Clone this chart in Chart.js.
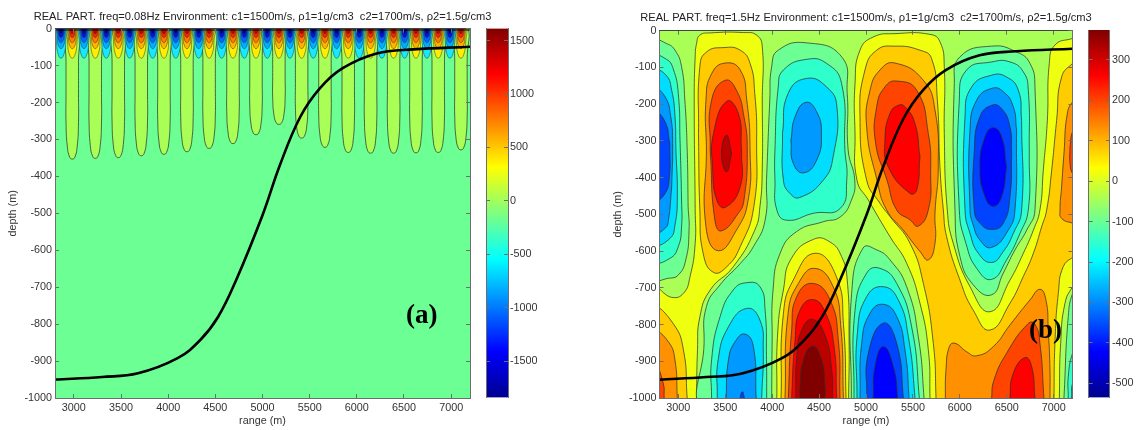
<!DOCTYPE html>
<html>
<head>
<meta charset="utf-8">
<title>Real part, two frequencies</title>
<script src="https://cdn.jsdelivr.net/npm/chart.js@4"></script>
<style>
  html, body { margin: 0; padding: 0; background: #fff; overflow: hidden; }
  body { width: 1141px; height: 430px; position: relative; }
  .box { position: absolute; top: 0; height: 430px; filter: blur(0.35px); }
  .tag { position: absolute; font: bold 27px "Liberation Serif", serif; color: #000; line-height: 30px; filter: blur(0.35px); }
</style>
</head>
<body>
<div class="box" style="left:0;width:525px"><canvas id="panelA"></canvas></div>
<div class="box" style="left:610px;width:512px"><canvas id="panelB"></canvas></div>
<div class="box" style="left:480px;width:80px"><canvas id="barA"></canvas></div>
<div class="box" style="left:1083px;width:58px"><canvas id="barB"></canvas></div>
<div class="tag" style="left:406px;top:299px">(a)</div>
<div class="tag" style="left:1029px;top:314px">(b)</div>
<script>
// axes
const rangeTicks = [3000, 3500, 4000, 4500, 5000, 5500, 6000, 6500, 7000];
const depthTicks = [0, -100, -200, -300, -400, -500, -600, -700, -800, -900, -1000];
const barTicksA = [1500, 1000, 500, 0, -500, -1000, -1500];
const barTicksB = [300, 200, 100, 0, -100, -200, -300, -400, -500];
const barRangeA = [-1842, 1614];
const barRangeB = [-535, 374];
const titleA = 'REAL PART. freq=0.08Hz Environment: c1=1500m/s, \u03c11=1g/cm3  c2=1700m/s, \u03c12=1.5g/cm3';
const titleB = 'REAL PART. freq=1.5Hz Environment: c1=1500m/s, \u03c11=1g/cm3  c2=1700m/s, \u03c12=1.5g/cm3';

// interface curve (same in both panels)
const curveRange = [2800, 3300, 3680, 4100, 4340, 4530, 4720, 5000, 5185, 5400, 5610, 5850, 6210, 6600, 7200];
const curveDepth = [-950, -943, -933, -892, -843, -780, -681, -505, -369, -239, -161, -107, -67, -56, -49];

// panel (a): lobes along the surface
const redLobes = [2983, 3227, 3471, 3715, 3955, 4199, 4434, 4687, 4931, 5174, 5415, 5662, 5909, 6146, 6390, 6627, 6863, 7104];
const blueLobes = [2864, 3107, 3344, 3592, 3836, 4080, 4323, 4567, 4807, 5050, 5291, 5538, 5786, 6026, 6266, 6507, 6743, 6987];
const fingerDepths = [353, 351, 349, 344, 340, 333, 324, 311, 287, 259, 296, 321, 335, 337, 337, 336, 335, 328];
const lobeDepths = [80, 54, 38, 24, 13];
const lobeHalfWidths = [50, 42, 34, 26, 18];
const redLobeColors = ['#FFEE00', '#FFB400', '#FF7800', '#FF2400', '#C40000'];
const blueLobeColors = ['#16E8FF', '#00AEFF', '#0064FF', '#0014E6', '#00008F'];

// panel (b) contours, [range, depth]
const yellowWest = [[3195,-35],[3230,-12],[3340,-6],[3695,-5],[3835,-12],[3895,-44],[3895,-189],[3895,-371],[3870,-479],[3815,-543],[3585,-643],[3340,-706],[3230,-779],[3205,-869],[3195,-1000],[3195,-1040],[2760,-1040],[2760,-705],[2930,-726],[3055,-715],[3125,-670],[3180,-579],[3180,-488],[3170,-189],[3180,-71]];
const amberWest = [[3230,-98],[3300,-58],[3480,-46],[3660,-53],[3765,-89],[3815,-171],[3835,-298],[3805,-479],[3660,-588],[3515,-643],[3375,-658],[3265,-606],[3230,-488],[3215,-280]];
const orangeWest = [[3500,-88],[3660,-107],[3730,-189],[3765,-325],[3745,-461],[3620,-543],[3425,-599],[3295,-534],[3300,-325],[3295,-189],[3355,-117]];
const hotWest = [[3500,-135],[3620,-162],[3700,-234],[3735,-325],[3700,-461],[3640,-497],[3460,-545],[3390,-516],[3340,-325],[3355,-189]];
const redWest = [[3515,-192],[3640,-225],[3675,-325],[3660,-425],[3500,-481],[3410,-461],[3365,-371],[3375,-280]];
const coreWest = [[3515,-284],[3570,-334],[3515,-384],[3460,-334]];
const amberCorner = [[2760,-761],[2945,-797],[3055,-869],[3095,-1000]];
const orangeCorner = [[2760,-824],[2895,-847],[2965,-897],[2990,-1000]];
const hotCorner = [[2760,-910],[2840,-960],[2850,-1000]];
const greenEdge = [[2760,-30],[2875,-35],[2965,-53],[3035,-98],[3070,-189],[3095,-325],[3105,-479],[3115,-543],[3080,-624],[3000,-665],[2895,-674],[2760,-673]];
const aquaEdge = [[2760,-73],[2875,-78],[2945,-103],[3000,-171],[3020,-307],[3035,-461],[3035,-534],[3000,-588],[2910,-620],[2760,-624]];
const cyanEdge = [[2760,-112],[2870,-121],[2930,-162],[2965,-234],[2975,-325],[2990,-452],[2965,-529],[2910,-566],[2760,-577]];
const dodgerEdge = [[2760,-162],[2860,-180],[2920,-234],[2940,-307],[2930,-425],[2895,-516],[2860,-538],[2760,-547]];
const blueEdge = [[2760,-225],[2860,-248],[2910,-307],[2905,-398],[2860,-443],[2760,-459]];
const greenMiddle = [[4365,-33],[4740,-71],[4800,-171],[4810,-325],[4880,-407],[4845,-461],[4725,-507],[4545,-520],[4260,-547],[4085,-606],[4010,-706],[4000,-850],[3995,-1000],[3995,-1040],[3275,-1040],[3275,-851],[3300,-751],[3445,-692],[3660,-634],[3800,-588],[3925,-516],[3940,-407],[3975,-189],[3995,-98],[4065,-53]];
const aquaMiddle = [[4365,-78],[4580,-89],[4740,-144],[4775,-325],[4795,-407],[4725,-484],[4440,-497],[4155,-516],[4050,-488],[4030,-407],[4030,-325],[4065,-153],[4120,-107]];
const cyanMiddle = [[4365,-130],[4580,-153],[4690,-207],[4650,-343],[4545,-407],[4295,-454],[4190,-443],[4120,-407],[4110,-280],[4170,-171]];
const dodgerMiddle = [[4360,-195],[4475,-221],[4525,-280],[4475,-352],[4335,-387],[4225,-361],[4200,-298],[4245,-234]];
const aquaLow = [[3355,-1000],[3355,-896],[3445,-779],[3585,-706],[3730,-686],[3870,-697],[3925,-761],[3940,-896],[3942,-1000]];
const cyanLow = [[3415,-1000],[3425,-896],[3535,-806],[3730,-756],[3870,-788],[3905,-869],[3889,-1000]];
const dodgerLow = [[3510,-1000],[3535,-896],[3605,-847],[3710,-826],[3800,-860],[3830,-1000]];
const tipLow = [[3660,-1000],[3683,-983],[3705,-1000]];
const yellowDeep = [[4050,-1000],[4060,-820],[4120,-706],[4205,-620],[4440,-568],[4615,-575],[4740,-615],[4800,-679],[4820,-850],[4815,-1000]];
const amberDeep = [[4095,-1000],[4120,-770],[4225,-679],[4455,-606],[4685,-670],[4760,-800],[4787,-1000]];
const orangeDeep = [[4137,-1000],[4170,-770],[4280,-688],[4455,-647],[4650,-697],[4730,-800],[4759,-1000]];
const hotDeep = [[4173,-1000],[4208,-815],[4262,-724],[4432,-688],[4617,-733],[4705,-842],[4723,-1000]];
const redDeep = [[4208,-1000],[4244,-842],[4297,-761],[4432,-732],[4563,-765],[4660,-860],[4688,-1000]];
const darkDeep = [[4250,-1000],[4262,-888],[4315,-815],[4432,-786],[4563,-829],[4635,-924],[4645,-1000]];
const coreDeep = [[4297,-1000],[4297,-969],[4333,-897],[4432,-859],[4528,-897],[4563,-969],[4563,-1000]];
const yellowEast = [[5309,-8],[5682,-10],[5788,-30],[5834,-98],[5834,-280],[5866,-488],[5930,-579],[6108,-697],[6321,-765],[6534,-679],[6676,-606],[6783,-543],[6853,-488],[6889,-380],[6932,-244],[6953,-89],[7013,-39],[7201,-21],[7240,-20],[7240,-690],[7201,-697],[7120,-742],[7074,-851],[7060,-1000],[7060,-1040],[5682,-1040],[5682,-1000],[5664,-869],[5575,-742],[5433,-633],[5256,-561],[5025,-461],[4904,-407],[4883,-280],[4883,-144],[4936,-53],[5078,-17]];
const amberEast = [[5309,-42],[5575,-53],[5699,-76],[5760,-189],[5788,-371],[5824,-488],[5859,-561],[6001,-679],[6143,-761],[6321,-815],[6534,-742],[6676,-669],[6783,-606],[6871,-534],[6925,-488],[6978,-380],[7031,-244],[7084,-126],[7201,-89],[7240,-88],[7240,-597],[7102,-642],[7049,-715],[7013,-851],[7003,-1000],[7003,-1040],[5746,-1040],[5746,-1000],[5717,-851],[5611,-688],[5469,-579],[5256,-506],[5149,-470],[5007,-407],[4936,-234],[4989,-107],[5114,-53]];
const orangeEast = [[5309,-88],[5611,-135],[5735,-216],[5770,-371],[5735,-497],[5735,-579],[5664,-624],[5575,-601],[5398,-543],[5220,-488],[5117,-407],[5007,-262],[5043,-162],[5149,-107]];
const hotEast = [[5327,-137],[5540,-162],[5664,-280],[5689,-389],[5664,-488],[5557,-532],[5469,-515],[5327,-488],[5224,-407],[5103,-307],[5114,-207],[5202,-153]];
const redEast = [[5344,-203],[5415,-207],[5522,-253],[5575,-343],[5540,-434],[5469,-443],[5238,-371],[5202,-298],[5256,-225]];
const greenNorth = [[6339,-42],[6605,-58],[6747,-89],[6800,-153],[6800,-488],[6712,-543],[6587,-597],[6463,-660],[6339,-719],[6143,-692],[6001,-615],[5948,-488],[5941,-144],[6001,-71]];
const aquaNorth = [[6339,-85],[6534,-85],[6676,-112],[6729,-162],[6740,-334],[6729,-488],[6640,-552],[6498,-624],[6339,-677],[6179,-647],[6065,-579],[5994,-488],[5994,-189],[6072,-107]];
const cyanNorth = [[6339,-121],[6498,-126],[6623,-162],[6658,-244],[6658,-488],[6569,-552],[6463,-601],[6339,-631],[6197,-606],[6108,-552],[6055,-488],[6055,-234],[6126,-153]];
const dodgerNorth = [[6339,-157],[6463,-166],[6569,-207],[6605,-271],[6587,-488],[6516,-543],[6339,-590],[6214,-570],[6136,-524],[6108,-488],[6108,-271],[6179,-189]];
const deepNorth = [[6339,-203],[6445,-212],[6534,-262],[6552,-334],[6534,-452],[6463,-524],[6339,-541],[6214,-524],[6154,-488],[6154,-325],[6214,-234]];
const blueNorth = [[6356,-264],[6445,-289],[6498,-371],[6445,-452],[6356,-478],[6268,-452],[6214,-371],[6268,-289]];
const orangeRim = [[7240,-193],[7201,-194],[7145,-225],[7109,-334],[7084,-425],[7067,-488],[7084,-511],[7201,-524],[7240,-525]];
const hotRim = [[7240,-274],[7201,-275],[7173,-316],[7173,-361],[7201,-389],[7240,-390]];
const orangeFloor = [[5845,-1000],[5852,-924],[5888,-860],[5948,-851],[6072,-874],[6179,-885],[6356,-860],[6534,-801],[6747,-733],[6853,-704],[6917,-733],[6942,-815],[6960,-924],[6960,-1000]];
const hotFloor = [[6339,-1000],[6364,-951],[6498,-878],[6729,-797],[6800,-799],[6853,-851],[6896,-1000]];
const redFloor = [[6534,-1000],[6569,-933],[6694,-890],[6765,-914],[6800,-1000]];
const greenSouth = [[4844,-1000],[4847,-715],[4968,-592],[5117,-597],[5256,-624],[5433,-697],[5557,-833],[5618,-1000]];
const aquaSouth = [[4872,-1000],[4883,-761],[5007,-660],[5149,-647],[5327,-688],[5486,-806],[5568,-1000]];
const cyanSouth = [[4904,-1000],[4908,-824],[5007,-724],[5185,-697],[5344,-733],[5451,-833],[5522,-1000]];
const dodgerSouth = [[4936,-1000],[4954,-851],[5043,-769],[5185,-745],[5327,-778],[5415,-869],[5458,-1000]];
const deepSouth = [[5007,-1000],[5025,-878],[5185,-796],[5327,-851],[5398,-1000]];
const blueSouth = [[5078,-1000],[5096,-914],[5185,-860],[5291,-914],[5337,-1000]];
const greenRim = [[7240,-714],[7201,-715],[7155,-778],[7109,-1000]];
const aquaRim = [[7240,-877],[7201,-878],[7155,-942],[7155,-1000]];
const cyanRim = [[7240,-958],[7201,-960],[7190,-1000]];

// colours
const LIME = '#A9FF55', GREEN = '#6CFF93', AQUA = '#2EFFCB', CYAN = '#00DDFF', DODGER = '#0099FF', DEEP = '#0044FF', BLUE = '#0000FF';
const YELLOW = '#EFFF10', AMBER = '#FFCC00', ORANGE = '#FF9000', HOT = '#FF4400', RED = '#FF0000', DARK = '#BB0000', CORE = '#800000';
const jetStops = [0, 0.125, 0.375, 0.625, 0.875, 1];
const jetColors = ['#00008F', '#0000FF', '#00FFFF', '#FFFF00', '#FF0000', '#800000'];
const LINE = 'rgba(45,45,45,0.8)';
const AXIS = '#6E6E6E', TEXT = '#333';
const FONT = '"Liberation Sans", Arial, sans-serif';

const wholePlot = [[2700, 100], [7300, 100], [7300, -1100], [2700, -1100]];
const surfaceBand = [[2700, 1], [7300, 1], [7300, -6], [2700, -6]];

// start each outline on its straightest stretch so the seam does not show
function rotateToStraight(points) {
  const n = points.length;
  let best = 0, bestTurn = Infinity;
  points.forEach((p, i) => {
    const a = points[(i + n - 1) % n], b = points[(i + 1) % n];
    const t1 = Math.atan2((p[1] - a[1]) * 3.9, p[0] - a[0]);
    const t2 = Math.atan2((b[1] - p[1]) * 3.9, b[0] - p[0]);
    let turn = Math.abs(t2 - t1);
    if (turn > Math.PI) turn = 2 * Math.PI - turn;
    if (turn < bestTurn) { bestTurn = turn; best = i; }
  });
  return points.slice(best).concat(points.slice(0, best));
}

function band(points, color, opts) {
  const start = rotateToStraight(points);
  const closed = start.concat([start[0]]).map(p => ({ x: p[0], y: p[1] }));
  return Object.assign({
    type: 'scatter', showLine: true, data: closed, fill: 'shape',
    backgroundColor: color, borderColor: LINE, borderWidth: 0.9,
    pointRadius: 0, tension: 0.5, capBezierPoints: false
  }, opts || {});
}

// contours that run into the bottom of the plot
function floorBand(points, color) {
  const first = points[0], last = points[points.length - 1];
  return band(points.concat([[last[0], -1040], [first[0], -1040]]), color);
}

// same for contours that hit the right edge
function rimBand(points, color) {
  const last = points[points.length - 1];
  return band(points.concat([[last[0], -1040], [7240, -1040]]), color);
}

function fingerOutline(center, depth) {
  const w = 66;
  return [[center - w, 10], [center - w, -0.25 * depth], [center - w, -0.5 * depth], [center - w, -0.72 * depth], [center - 0.8 * w, -0.9 * depth], [center - 0.42 * w, -0.985 * depth], [center, -depth],
          [center + 0.42 * w, -0.985 * depth], [center + 0.8 * w, -0.9 * depth], [center + w, -0.72 * depth], [center + w, -0.5 * depth], [center + w, -0.25 * depth], [center + w, 10]];
}

function lobeOutline(center, depth, w) {
  return [[center - w, 10], [center - w, -0.45 * depth], [center - 0.7 * w, -0.82 * depth], [center, -depth],
          [center + 0.7 * w, -0.82 * depth], [center + w, -0.45 * depth], [center + w, 10]];
}

const curveDataset = {
  type: 'scatter', showLine: true, fill: false, pointRadius: 0, tension: 0.4,
  borderColor: '#000', borderWidth: 2.6,
  data: curveRange.map((r, i) => ({ x: r, y: curveDepth[i] }))
};

// painted back to front
const bandsA = [band(wholePlot, GREEN, { tension: 0, borderWidth: 0 })];
redLobes.forEach((c, i) => bandsA.push(band(fingerOutline(c, fingerDepths[i]), LIME)));
lobeDepths.forEach((d, k) => {
  redLobes.forEach(c => bandsA.push(band(lobeOutline(c, d, lobeHalfWidths[k]), redLobeColors[k], { borderWidth: 0.6 })));
  blueLobes.forEach(c => bandsA.push(band(lobeOutline(c, d, lobeHalfWidths[k]), blueLobeColors[k], { borderWidth: 0.6 })));
});
bandsA.push(band(surfaceBand, 'rgba(0,0,0,0.5)', { tension: 0, borderWidth: 0 }));
bandsA.push(curveDataset);

const bandsB = [
  band(wholePlot, LIME, { tension: 0, borderWidth: 0 }),
  band(yellowWest, YELLOW), band(amberWest, AMBER), band(orangeWest, ORANGE), band(hotWest, HOT), band(redWest, RED), band(coreWest, DARK),
  floorBand(amberCorner, AMBER), floorBand(orangeCorner, ORANGE), floorBand(hotCorner, HOT),
  band(greenEdge, GREEN), band(aquaEdge, AQUA), band(cyanEdge, CYAN), band(dodgerEdge, DODGER), band(blueEdge, DEEP),
  band(greenMiddle, GREEN), band(aquaMiddle, AQUA), band(cyanMiddle, CYAN), band(dodgerMiddle, DODGER),
  floorBand(aquaLow, AQUA), floorBand(cyanLow, CYAN), floorBand(dodgerLow, DODGER), floorBand(tipLow, DEEP),
  floorBand(yellowDeep, YELLOW), floorBand(amberDeep, AMBER), floorBand(orangeDeep, ORANGE), floorBand(hotDeep, HOT),
  floorBand(redDeep, RED), floorBand(darkDeep, DARK), floorBand(coreDeep, CORE),
  band(yellowEast, YELLOW), band(amberEast, AMBER), band(orangeEast, ORANGE), band(hotEast, HOT), band(redEast, RED),
  band(greenNorth, GREEN), band(aquaNorth, AQUA), band(cyanNorth, CYAN), band(dodgerNorth, DODGER), band(deepNorth, DEEP), band(blueNorth, BLUE),
  band(orangeRim, ORANGE), band(hotRim, HOT),
  floorBand(orangeFloor, ORANGE), floorBand(hotFloor, HOT), floorBand(redFloor, RED),
  floorBand(greenSouth, GREEN), floorBand(aquaSouth, AQUA), floorBand(cyanSouth, CYAN), floorBand(dodgerSouth, DODGER), floorBand(deepSouth, DEEP), floorBand(blueSouth, BLUE),
  rimBand(greenRim, GREEN), rimBand(aquaRim, AQUA), rimBand(cyanRim, CYAN),
  curveDataset
];

function tickGrid() {
  return { drawOnChartArea: false, drawTicks: true, tickLength: -4, color: AXIS, lineWidth: 1, z: 2 };
}

function panel(id, title, bands, sideWidth, titlePad, labelPad) {
  new Chart(document.getElementById(id), {
    type: 'scatter',
    data: { datasets: bands.slice().reverse() },
    options: {
      responsive: false,
      animation: false,
      plugins: {
        legend: { display: false },
        tooltip: { enabled: false },
        title: { display: true, text: title, color: '#222', font: { family: FONT, size: 11.1, weight: 'normal' }, padding: titlePad }
      },
      scales: {
        x: {
          type: 'linear', min: 2800, max: 7200, position: 'bottom',
          afterBuildTicks: s => { s.ticks = rangeTicks.map(v => ({ value: v })); },
          afterFit: s => { s.height = 32; },
          grid: tickGrid(), border: { color: AXIS, z: 2 },
          ticks: { color: TEXT, font: { family: FONT, size: 10.8 }, padding: 8, maxRotation: 0, autoSkip: false, callback: v => String(v) },
          title: { display: true, text: 'range (m)', color: TEXT, font: { family: FONT, size: 10.8 }, padding: { top: 0, bottom: 2 } }
        },
        y: {
          type: 'linear', min: -1000, max: 0, position: 'left',
          afterBuildTicks: s => { s.ticks = depthTicks.map(v => ({ value: v })); },
          afterFit: s => { s.width = sideWidth; },
          grid: tickGrid(), border: { color: AXIS, z: 2 },
          ticks: { color: TEXT, font: { family: FONT, size: 10.8 }, padding: 7, autoSkip: false, callback: v => String(v) },
          title: { display: true, text: 'depth (m)', color: TEXT, font: { family: FONT, size: 10.8 }, padding: { top: labelPad, bottom: 0 } }
        },
        x2: {
          type: 'linear', axis: 'x', min: 2800, max: 7200, position: 'top',
          afterBuildTicks: s => { s.ticks = rangeTicks.map(v => ({ value: v })); },
          afterFit: s => { s.height = 0; },
          grid: tickGrid(), border: { color: '#444', z: 2 }, ticks: { display: false }
        },
        y2: {
          type: 'linear', axis: 'y', min: -1000, max: 0, position: 'right',
          afterBuildTicks: s => { s.ticks = depthTicks.map(v => ({ value: v })); },
          afterFit: s => { s.width = sideWidth; },
          grid: tickGrid(), border: { color: AXIS, z: 2 }, ticks: { display: false }
        }
      }
    }
  });
}

function colorbar(id, range, ticks, pad, axisWidth) {
  new Chart(document.getElementById(id), {
    type: 'bar',
    data: {
      labels: [''],
      datasets: [{
        data: [range],
        barPercentage: 1,
        categoryPercentage: 1,
        backgroundColor: c => {
          const area = c.chart.chartArea;
          if (!area) return jetColors[0];
          const g = c.chart.ctx.createLinearGradient(0, area.bottom, 0, area.top);
          jetStops.forEach((s, i) => g.addColorStop(s, jetColors[i]));
          return g;
        }
      }]
    },
    options: {
      responsive: false,
      animation: false,
      layout: { padding: pad, autoPadding: false },
      plugins: { legend: { display: false }, tooltip: { enabled: false } },
      scales: {
        x: { display: false },
        y: {
          position: 'right', min: range[0], max: range[1],
          afterBuildTicks: s => { s.ticks = ticks.map(v => ({ value: v })); },
          afterFit: s => { s.width = axisWidth; },
          grid: tickGrid(), border: { color: AXIS, z: 2 },
          ticks: { color: TEXT, font: { family: FONT, size: 10.8 }, padding: 6, autoSkip: false, callback: v => String(v) }
        },
        y2: {
          type: 'linear', axis: 'y', position: 'left', min: range[0], max: range[1],
          afterBuildTicks: s => { s.ticks = ticks.map(v => ({ value: v })); },
          afterFit: s => { s.width = 0; },
          grid: tickGrid(), border: { color: AXIS, z: 2 }, ticks: { display: false }
        }
      }
    }
  });
}

function size(id, w, h) {
  const c = document.getElementById(id);
  c.width = w; c.height = h;
  c.style.width = w + 'px'; c.style.height = h + 'px';
}
size('panelA', 525, 430);
size('panelB', 512, 430);
size('barA', 80, 410);
size('barB', 58, 410);

panel('panelA', titleA, bandsA, 55, { top: 10, bottom: 5.4 }, 7);
panel('panelB', titleB, bandsB, 49.5, { top: 11, bottom: 6.4 }, 2);
colorbar('barA', barRangeA, barTicksA, { left: 6, top: 28.5, bottom: 11 }, 52);
colorbar('barB', barRangeB, barTicksB, { left: 5.7, top: 30, bottom: 11 }, 31);
</script>
</body>
</html>
